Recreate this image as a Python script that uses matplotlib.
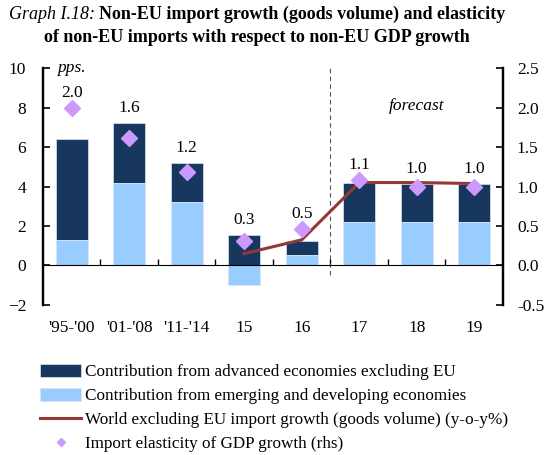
import numpy as np
import matplotlib.pyplot as plt

plt.rcParams['font.family'] = ['Liberation Serif', 'DejaVu Serif']

# --- data
categories = ["'95-'00", "'01-'08", "'11-'14", "15", "16", "17", "18", "19"]
emerging = [1.3, 4.2, 3.2, -1.0, 0.55, 2.2, 2.2, 2.2]
advanced = [5.1, 3.0, 2.0, 1.55, 0.7, 2.0, 1.95, 1.95]
world_growth = [np.nan, np.nan, np.nan, 0.6, 1.3, 4.2, 4.2, 4.15]
elasticity = [2.0, 1.62, 1.18, 0.31, 0.46, 1.08, 0.99, 0.99]
elast_labels = ["2.0", "1.6", "1.2", "0.3", "0.5", "1.1", "1.0", "1.0"]

c_adv = '#17375E'
c_emg = '#99CCFF'
c_line = '#953735'
c_dia = '#CC99FF'

fig = plt.figure(figsize=(5.49, 4.55), dpi=100)
ax = fig.add_axes([0.0783, 0.3297, 0.8379, 0.5208])
ax2 = ax.twinx()

x = np.arange(len(categories))
emg = np.array(emerging)
adv = np.array(advanced)
# advanced stacks on top of the positive part of emerging
adv_bottom = np.where(emg > 0, emg, 0)

b1 = ax.bar(x, adv, 0.55, bottom=adv_bottom, color=c_adv, edgecolor='#dce6f0',
            linewidth=0.5, label='Contribution from advanced economies excluding EU', zorder=2)
b2 = ax.bar(x, emg, 0.55, color=c_emg, edgecolor='#dce6f0', linewidth=0.5,
            label='Contribution from emerging and developing economies', zorder=2)
l1, = ax.plot(x, world_growth, color=c_line, lw=2.2, zorder=3,
              label='World excluding EU import growth (goods volume) (y-o-y%)')

# diamonds on rhs
s1, = ax2.plot(x, elasticity, ls='none', marker='D', ms=8, color=c_dia, mec=c_dia,
               zorder=4, label='Import elasticity of GDP growth (rhs)')

# value labels above bar top / diamond
for i in range(len(x)):
    top = max(adv_bottom[i] + adv[i], elasticity[i] * 4)
    ax.annotate(elast_labels[i], (x[i], top), xytext=(0, 5), textcoords='offset points',
                ha='center', va='bottom', fontsize=12.5)

ax.set_xlim(-0.5, len(x) - 0.5)
ax.set_ylim(-2, 10)
ax2.set_ylim(-0.5, 2.5)
ax.set_yticks(np.arange(-2, 11, 2))
ax2.set_yticks(np.arange(-0.5, 2.6, 0.5))
ax2.set_yticklabels([f'{v:.1f}' for v in np.arange(-0.5, 2.6, 0.5)])

for a in (ax, ax2):
    a.spines['top'].set_visible(False)
    a.spines['bottom'].set_position(('data', 0))
    a.spines['left'].set_linewidth(1.6)
    a.spines['right'].set_linewidth(1.6)
ax2.spines['bottom'].set_visible(False)

ax.tick_params(axis='y', direction='in', length=5, width=1.2, labelsize=12.5, pad=12)
ax2.tick_params(axis='y', direction='in', length=5, width=1.2, labelsize=12.5, pad=10)

ax.set_xticks(x)
ax.set_xticklabels(categories)
ax.set_xticks(np.arange(0.5, len(x) - 0.5, 1), minor=True)
ax.tick_params(axis='x', which='major', length=0, labelsize=12.5, pad=39)
ax.tick_params(axis='x', which='minor', direction='in', length=4, width=1)

ax.vlines(4.5, -0.5, 10, colors='#555555', linestyles=(0, (4, 3)), lw=0.8)

ax.text(0.03, 1.0, 'pps.', transform=ax.transAxes, style='italic', fontsize=12.5,
        ha='left', va='center')
ax.text(6, 8.1, 'forecast', style='italic', fontsize=12.5, ha='center', va='center')

# title line 1: italic prefix + bold rest, centred together
tx = 0.468
t1 = fig.text(tx, 0.968, 'Non-EU import growth (goods volume) and elasticity',
              ha='left', va='center', fontsize=13, weight='bold')
pre = fig.text(0, 0.968, 'Graph I.18: ', style='italic', fontsize=13, va='center')
fig.canvas.draw()
r = fig.canvas.get_renderer()
w_pre = pre.get_window_extent(r).width / fig.bbox.width
w_t1 = t1.get_window_extent(r).width / fig.bbox.width
start = tx - (w_pre + w_t1) / 2
pre.set_x(start)
t1.set_x(start + w_pre)
fig.text(tx, 0.917, 'of non-EU imports with respect to non-EU GDP growth',
         ha='center', va='center', fontsize=13, weight='bold')

fig.legend(handles=[b1, b2, l1, s1], loc='upper left', bbox_to_anchor=(0.073, 0.2),
           frameon=False, fontsize=12.3, handlelength=2.4, handleheight=0.8,
           labelspacing=0.44, handletextpad=0.25, borderaxespad=0, borderpad=0,
           markerscale=0.55)

fig.savefig('out.png', dpi=100)
